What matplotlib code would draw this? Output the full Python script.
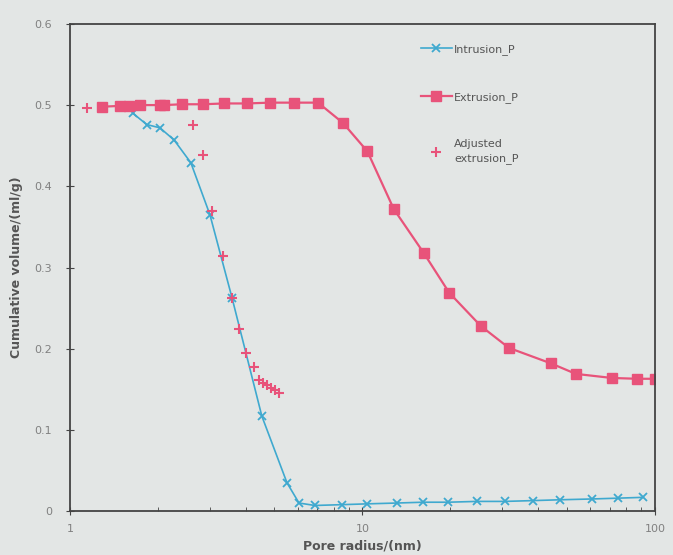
import numpy as np
import matplotlib.pyplot as plt
from matplotlib.ticker import LogLocator, NullFormatter

# intrusion curve (blue, x markers)
intr_r = [1.64, 1.83, 2.03, 2.27, 2.59, 3.01, 3.58, 4.53, 5.52, 6.07, 6.88, 8.51, 10.4, 13.1,
          16.1, 19.6, 24.6, 30.7, 38.3, 47.3, 60.9, 74.8, 91.0]
intr_v = [0.490, 0.476, 0.472, 0.457, 0.429, 0.365, 0.263, 0.117, 0.035, 0.010, 0.007, 0.008,
          0.009, 0.010, 0.011, 0.011, 0.012, 0.012, 0.013, 0.014, 0.015, 0.016, 0.017]

# extrusion curve (pink, squares)
extr_r = [1.29, 1.48, 1.59, 1.74, 2.03, 2.10, 2.41, 2.85, 3.36, 4.03, 4.83, 5.83, 7.05, 8.58,
          10.4, 12.8, 16.2, 19.8, 25.4, 31.7, 44.1, 53.7, 71.3, 86.8, 100]
extr_v = [0.498, 0.499, 0.499, 0.500, 0.500, 0.500, 0.501, 0.501, 0.502, 0.502, 0.503, 0.503,
          0.503, 0.478, 0.443, 0.372, 0.318, 0.269, 0.228, 0.201, 0.182, 0.169, 0.164, 0.163, 0.163]

# adjusted extrusion (pink plus)
adj_r = [1.14, 2.64, 2.85, 3.06, 3.33, 3.58, 3.78, 4.00, 4.26, 4.43, 4.57, 4.72, 4.87, 5.02, 5.18]
adj_v = [0.497, 0.475, 0.438, 0.369, 0.314, 0.263, 0.224, 0.195, 0.178, 0.162, 0.158, 0.155,
         0.152, 0.149, 0.146]

bg = '#e3e6e5'
blue = '#3fa9cf'
pink = '#e8537a'

fig = plt.figure(figsize=(6.73, 5.55), dpi=100, facecolor=bg)
ax = fig.add_axes([0.104, 0.079, 0.869, 0.878], facecolor=bg)

ax.plot(intr_r, intr_v, color=blue, lw=1.2, marker='x', ms=5.5, mew=1.3, label='Intrusion_P')
ax.plot(extr_r, extr_v, color=pink, lw=1.6, marker='s', ms=6.5, label='Extrusion_P')
ax.plot(adj_r, adj_v, ls='none', color=pink, marker='+', ms=7, mew=1.5,
        label='Adjusted\nextrusion_P')

ax.set_xscale('log')
ax.set_xlim(1, 100)
ax.set_ylim(0, 0.6)
ax.set_xticks([1, 10, 100])
ax.set_xticklabels(['1', '10', '100'])
ax.xaxis.set_minor_locator(LogLocator(base=10, subs=np.arange(2, 10)))
ax.xaxis.set_minor_formatter(NullFormatter())
ax.set_yticks([0, 0.1, 0.2, 0.3, 0.4, 0.5, 0.6])
ax.set_yticklabels(['0', '0.1', '0.2', '0.3', '0.4', '0.5', '0.6'])
ax.tick_params(axis='both', which='major', labelsize=8, labelcolor='#808080', color='#444444',
               direction='inout', length=6)
ax.tick_params(axis='y', pad=10)
ax.tick_params(axis='x', pad=6)
ax.tick_params(axis='x', which='minor', direction='in', length=3, color='#444444')

for s in ax.spines.values():
    s.set_color('#444444')
    s.set_linewidth(1.3)

ax.set_xlabel('Pore radius/(nm)', fontsize=9, fontweight='bold', color='#555555', labelpad=4)
ax.set_ylabel('Cumulative volume/(ml/g)', fontsize=9, fontweight='bold', color='#555555',
              labelpad=8)

leg = ax.legend(loc='upper left', bbox_to_anchor=(0.59, 0.97), frameon=False, fontsize=8,
                labelspacing=3.3, handlelength=2.8, handletextpad=0.2, borderpad=0)
for t in leg.get_texts():
    t.set_color('#555555')
    t.set_linespacing(1.5)

fig.savefig('out.png', dpi=100, facecolor=bg)
